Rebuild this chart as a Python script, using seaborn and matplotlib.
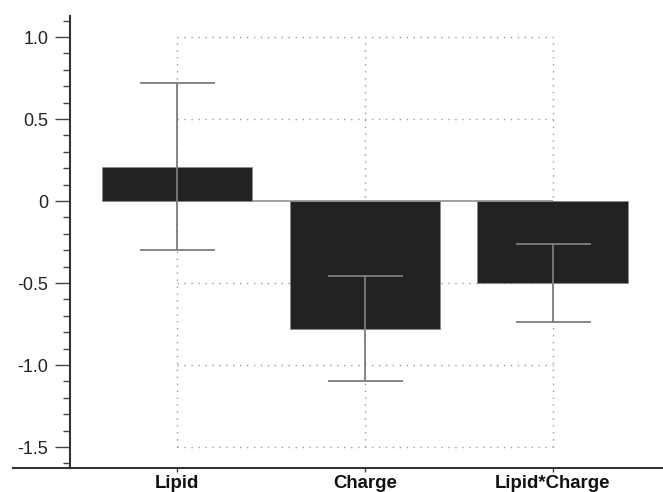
import matplotlib
matplotlib.use("Agg")
import matplotlib.pyplot as plt
import seaborn as sns
import numpy as np
import pandas as pd

# Effect estimates with their error half-widths
terms = ["Lipid", "Charge", "Lipid*Charge"]
estimates = [0.21, -0.78, -0.50]
errors = [0.51, 0.32, 0.24]

# Axis ticks
y_major = [1.0, 0.5, 0.0, -0.5, -1.0, -1.5]
y_labels = ["1.0", "0.5", "0", "-0.5", "-1.0", "-1.5"]
y_minor = np.arange(-1.6, 1.11, 0.1)

sns.set_theme(style="white")
plt.rcParams["font.family"] = ["Liberation Sans", "DejaVu Sans"]

df = pd.DataFrame({"term": terms, "estimate": estimates, "error": errors})

fig = plt.figure(figsize=(6.63, 4.92), dpi=100)
ax = fig.add_axes([13 / 663, 1 - 468 / 492, 650 / 663, (468 - 15.7) / 492])

sns.barplot(data=df, x="term", y="estimate", order=terms, color="#222222",
            saturation=1, width=0.8, errorbar=None, edgecolor="#8a8a8a",
            linewidth=0.7, ax=ax, zorder=3)

pos = np.arange(len(terms))
grid_y = [v for v in y_major if v != 0]

# Dotted reference grid bounded by the outer categories and tick range
ax.hlines(grid_y, pos[0], pos[-1], colors="#9a9a9a", linewidth=1.0,
          linestyles=(0, (1, 4)), zorder=1)
ax.vlines(pos, min(y_major), max(y_major), colors="#9a9a9a", linewidth=1.0,
          linestyles=(0, (1, 4)), zorder=1)
# Zero line
ax.hlines(0, pos[0], pos[-1], colors="#a0a0a0", linewidth=1.4, zorder=2)

# Error bars
ax.errorbar(pos, df["estimate"], yerr=df["error"], fmt="none",
            ecolor="#7d7d7d", elinewidth=1.3, capsize=27, capthick=1.3,
            zorder=4)

ax.set_xlim(-0.871, 2.587)
ax.set_ylim(-1.628, 1.13)

for side in ("top", "right"):
    ax.spines[side].set_visible(False)
ax.spines["left"].set_position(("data", -0.568))
for side in ("left", "bottom"):
    ax.spines[side].set_color("#333333")
    ax.spines[side].set_linewidth(1.5)

ax.set_yticks(y_major)
ax.set_yticklabels(y_labels)
ax.set_yticks(y_minor, minor=True)
ax.tick_params(axis="y", which="major", direction="out", length=10.8,
               width=1.0, color="#444444", left=True, pad=4.8,
               labelsize=13, labelcolor="#222222")
ax.tick_params(axis="y", which="minor", direction="out", length=4.8,
               width=1.0, color="#444444", left=True)
ax.tick_params(axis="x", direction="out", length=3, width=1.0,
               color="#444444", bottom=True, pad=2.2, labelsize=13.4,
               labelcolor="#111111")
for lbl in ax.get_xticklabels():
    lbl.set_fontweight("bold")

ax.set_xlabel("")
ax.set_ylabel("")
ax.patch.set_alpha(0)

fig.savefig("out.png", dpi=100)
